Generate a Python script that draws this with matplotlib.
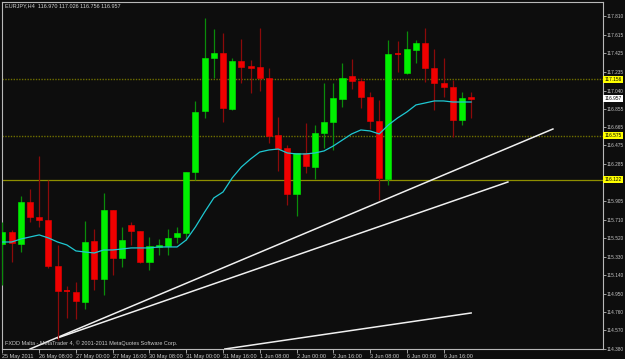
import matplotlib
matplotlib.use("Agg")
import matplotlib.pyplot as plt
from matplotlib.patches import Rectangle
import numpy as np

plt.rcParams['font.family'] = ['Liberation Sans', 'DejaVu Sans']

# EURJPY H4 candles
opens = [115.461, 115.584, 115.461, 115.893, 115.739, 115.708, 115.234, 114.977, 114.966, 114.863,
         115.492, 115.100, 115.811, 115.317, 115.657, 115.595, 115.275, 115.430, 115.440, 115.533,
         115.574, 116.202, 116.831, 117.377, 117.428, 116.851, 117.346, 117.294, 117.284, 117.171,
         116.584, 116.450, 115.976, 116.398, 116.254, 116.604, 116.717, 116.954, 117.191, 117.140,
         116.975, 116.728, 116.130, 117.418, 117.222, 117.459, 117.531, 117.274, 117.119, 117.078,
         116.738, 116.970]
highs = [115.687, 115.605, 115.955, 116.027, 116.367, 116.120, 115.451, 115.028, 115.069, 115.698,
         115.615, 115.986, 115.811, 115.636, 115.687, 115.595, 115.533, 115.512, 115.615, 115.636,
         116.202, 116.934, 117.789, 117.675, 117.634, 117.377, 117.572, 117.356, 117.686, 117.274,
         116.769, 116.481, 116.398, 116.707, 116.687, 117.119, 117.119, 117.325, 117.366, 117.171,
         117.026, 116.944, 117.562, 117.552, 117.655, 117.562, 117.686, 117.469, 117.377, 117.150,
         117.026, 117.026]
lows = [115.039, 115.275, 115.378, 115.687, 115.636, 115.214, 114.472, 114.699, 114.688, 114.791,
        114.987, 114.936, 115.142, 115.224, 115.451, 115.265, 115.193, 115.348, 115.348, 115.471,
        115.502, 116.120, 116.759, 117.171, 116.717, 116.841, 117.119, 117.016, 117.037, 116.501,
        116.213, 115.863, 115.749, 116.192, 116.130, 116.450, 116.429, 116.872, 117.057, 116.862,
        116.645, 115.914, 116.069, 117.232, 117.212, 117.325, 117.129, 116.841, 116.975, 116.563,
        116.687, 116.756]
closes = [115.584, 115.471, 115.893, 115.739, 115.708, 115.234, 114.977, 114.966, 114.874, 115.481,
          115.100, 115.811, 115.317, 115.502, 115.595, 115.275, 115.440, 115.451, 115.523, 115.574,
          116.202, 116.820, 117.377, 117.428, 116.862, 117.346, 117.284, 117.274, 117.171, 116.573,
          116.439, 115.976, 116.398, 116.264, 116.604, 116.717, 116.965, 117.171, 117.140, 116.975,
          116.728, 116.141, 117.418, 117.408, 117.469, 117.531, 117.274, 117.119, 117.078, 116.738,
          116.965, 116.957]
ma = [115.481, 115.481, 115.512, 115.533, 115.554, 115.523, 115.481, 115.451, 115.389, 115.378,
      115.368, 115.399, 115.399, 115.409, 115.420, 115.420, 115.420, 115.430, 115.430, 115.430,
      115.502, 115.636, 115.790, 115.935, 115.996, 116.141, 116.254, 116.336, 116.408, 116.429,
      116.439, 116.398, 116.388, 116.388, 116.398, 116.419, 116.470, 116.532, 116.594, 116.635,
      116.625, 116.594, 116.687, 116.759, 116.820, 116.893, 116.913, 116.934, 116.934, 116.923,
      116.923, 116.923]

# horizontal levels and trend lines (bar index, price)
levels = [117.156, 116.575, 116.122]
level_labels = ['117.156', '116.575', '116.122']
trend_x = [(3.0, 59.9), (6.0, 55.0), (24.2, 51.0)]
trend_y = [(114.379, 116.645), (114.493, 116.099), (114.379, 114.750)]

price_ticks = [117.810, 117.615, 117.425, 117.235, 117.040, 116.855, 116.665, 116.475, 116.285,
               115.905, 115.710, 115.520, 115.330, 115.140, 114.950, 114.760, 114.570, 114.380]
time_idx = [0, 4, 8, 12, 16, 20, 24, 28, 32, 36, 40, 44, 48]
time_labels = ['25 May 2011', '26 May 08:00', '27 May 00:00', '27 May 16:00', '30 May 08:00',
               '31 May 00:00', '31 May 16:00', '1 Jun 08:00', '2 Jun 00:00', '2 Jun 16:00',
               '3 Jun 08:00', '6 Jun 00:00', '6 Jun 16:00']
header = 'EURJPY,H4  116.970 117.026 116.756 116.957'
footer = 'FXDD Malta - MetaTrader 4, \u00a9 2001-2011 MetaQuotes Software Corp.'
last_price = 116.957

BG = '#0d0d0d'
AXC = '#b8b8b8'
fs = 4.0
fs_price = 3.4

fig = plt.figure(figsize=(6.25, 3.59), dpi=100, facecolor=BG)
ax = fig.add_axes([2/625, 10/359, 601/625, 347/359])
ax.set_facecolor(BG)

for lv in levels[:2]:
    ax.axhline(lv, color='#6e6e00', lw=1.0, ls=(0, (1, 1)), zorder=1)
ax.axhline(levels[2], color='#8e8e00', lw=0.9, zorder=1)

for tx, ty in zip(trend_x, trend_y):
    ax.plot(tx, ty, color='#f0f0f0', lw=1.1, zorder=2)

w = 0.66
for i in range(len(opens)):
    o, h, l, c = opens[i], highs[i], lows[i], closes[i]
    if c >= o:
        body, wick = '#00f000', '#0a8c0a'
    else:
        body, wick = '#f00000', '#8c0a0a'
    ax.vlines(i, l, h, color=wick, lw=0.9, zorder=3)
    if abs(c - o) < 0.012:
        ax.hlines(o, i - w/2, i + w/2, color=body, lw=1.2, zorder=4)
    else:
        ax.add_patch(Rectangle((i - w/2, min(o, c)), w, abs(c - o),
                               facecolor=body, edgecolor=body, lw=0.4, zorder=4))

ax.plot(range(len(ma)), ma, color='#1ec8d2', lw=0.9, zorder=5)

ax.set_xlim(-0.05, 65.35)
ax.set_ylim(114.379, 117.953)

for s in ax.spines.values():
    s.set_color(AXC)
    s.set_linewidth(0.8)

ax.yaxis.tick_right()
ax.set_yticks(price_ticks)
ax.set_yticklabels([f'{p:.3f}' for p in price_ticks])
ax.tick_params(axis='y', colors=AXC, labelcolor='#c8c8c8', labelsize=fs_price, length=2, width=0.6, pad=0.8)
ax.set_xticks(time_idx)
ax.set_xticklabels(time_labels)
ax.tick_params(axis='x', colors=AXC, labelcolor='#c8c8c8', labelsize=fs, length=3, width=0.6, pad=0.5)
for lbl in ax.get_xticklabels():
    lbl.set_horizontalalignment('left')

ytr = ax.get_yaxis_transform()
for lv, txt in zip(levels, level_labels):
    ax.text(1.002, lv, txt, transform=ytr, ha='left', va='center', fontsize=fs_price, color='black',
            bbox=dict(boxstyle='square,pad=0.25', fc='#ffff00', ec='none'), clip_on=False, zorder=10)
ax.text(1.002, last_price, f'{last_price:.3f}', transform=ytr, ha='left', va='center', fontsize=fs_price,
        color='black', bbox=dict(boxstyle='square,pad=0.25', fc='white', ec='none'), clip_on=False, zorder=10)

fig.text(5/625, 1 - 6/359, header, color='#d0d0d0', fontsize=fs, ha='left', va='center')
fig.text(5/625, 1 - 343/359, footer, color='#c8c8c8', fontsize=fs, ha='left', va='center')

fig.savefig('out.png', dpi=100, facecolor=BG)
